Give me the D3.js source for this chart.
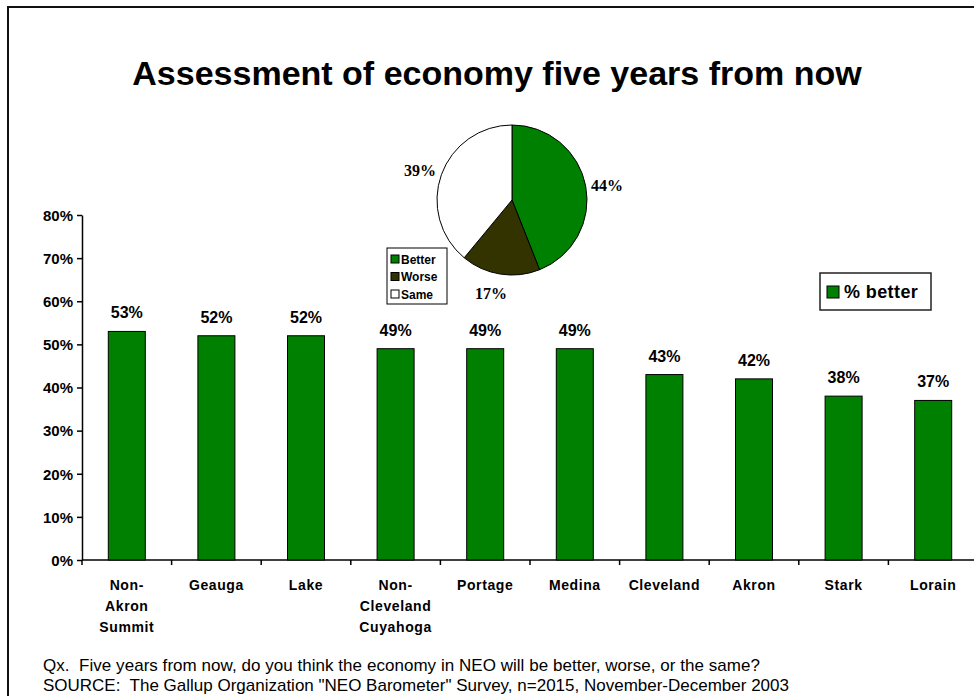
<!DOCTYPE html>
<html>
<head>
<meta charset="utf-8">
<script src="https://cdn.jsdelivr.net/npm/d3@7"></script>
<style>
  html, body { margin: 0; padding: 0; background: #fff; }
  svg { display: block; }
</style>
</head>
<body>
<svg id="chart" width="974" height="696" font-family="Liberation Sans, Arial, sans-serif"></svg>
<script>
// Share expecting the economy to be better, by area
const categories = [
  ["Non-", "Akron", "Summit"],
  ["Geauga"],
  ["Lake"],
  ["Non-", "Cleveland", "Cuyahoga"],
  ["Portage"],
  ["Medina"],
  ["Cleveland"],
  ["Akron"],
  ["Stark"],
  ["Lorain"]
];
const betterValues = [53, 52, 52, 49, 49, 49, 43, 42, 38, 37];
const yTicks = [0, 10, 20, 30, 40, 50, 60, 70, 80];

// Overall split for the pie
const pieLabels = ["Better", "Worse", "Same"];
const pieValues = [44, 17, 39];
const pieColors = ["#008000", "#333300", "#ffffff"];

const titleText = "Assessment of economy five years from now";
const footnotes = [
  "Qx.  Five years from now, do you think the economy in NEO will be better, worse, or the same?",
  "SOURCE:  The Gallup Organization \"NEO Barometer\" Survey, n=2015, November-December 2003"
];
const footnoteWidths = [717, 746];

const svg = d3.select("#chart");

// frame (left and top edges are visible)
svg.append("path")
  .attr("d", "M8,700 L8,7 L980,7")
  .attr("fill", "none").attr("stroke", "#111").attr("stroke-width", 2);

svg.append("text")
  .attr("x", 497).attr("y", 85)
  .attr("text-anchor", "middle")
  .attr("font-size", 34).attr("font-weight", "bold")
  .text(titleText);

// bar chart
const x = d3.scaleBand().domain(d3.range(categories.length)).range([82, 978]).padding(0);
const y = d3.scaleLinear().domain([0, 80]).range([560, 215]);

const yAxis = svg.append("g")
  .attr("transform", "translate(82,0)")
  .call(d3.axisLeft(y).tickValues(yTicks).tickFormat(d => d + "%").tickSize(5).tickSizeOuter(0));
yAxis.attr("font-family", null).attr("font-size", null);
yAxis.select(".domain").attr("stroke", "#000").attr("stroke-width", 1.5);
yAxis.selectAll(".tick line").attr("stroke", "#000").attr("stroke-width", 1.5);
yAxis.selectAll(".tick text")
  .attr("font-size", 15).attr("font-weight", "bold").attr("fill", "#000")
  .attr("x", -9).attr("dy", "0.35em");

const xAxis = svg.append("g")
  .attr("transform", "translate(0,560)");
xAxis.append("line")
  .attr("x1", 82).attr("x2", 978).attr("y1", 0).attr("y2", 0)
  .attr("stroke", "#000").attr("stroke-width", 1.5);
xAxis.selectAll("line.tk")
  .data(d3.range(categories.length + 1))
  .join("line").attr("class", "tk")
  .attr("x1", i => 82 + i * x.bandwidth()).attr("x2", i => 82 + i * x.bandwidth())
  .attr("y1", 0).attr("y2", 5)
  .attr("stroke", "#000").attr("stroke-width", 1.5);

const barW = 37;
svg.append("g").selectAll("rect")
  .data(betterValues)
  .join("rect")
  .attr("x", (d, i) => x(i) + x.bandwidth() / 2 - barW / 2)
  .attr("y", d => y(d))
  .attr("width", barW)
  .attr("height", d => y(0) - y(d))
  .attr("fill", "#008000")
  .attr("stroke", "#000").attr("stroke-width", 1);

svg.append("g").selectAll("text")
  .data(betterValues)
  .join("text")
  .attr("x", (d, i) => x(i) + x.bandwidth() / 2)
  .attr("y", d => y(d) - 13)
  .attr("text-anchor", "middle")
  .attr("font-size", 16).attr("font-weight", "bold")
  .text(d => d + "%");

const catG = svg.append("g").selectAll("text")
  .data(categories)
  .join("text")
  .attr("x", (d, i) => x(i) + x.bandwidth() / 2)
  .attr("y", 590)
  .attr("text-anchor", "middle")
  .attr("font-size", 14).attr("font-weight", "bold")
  .attr("letter-spacing", 0.6);
catG.selectAll("tspan")
  .data(d => d)
  .join("tspan")
  .attr("x", function () { return d3.select(this.parentNode).attr("x"); })
  .attr("dy", (d, j) => j === 0 ? 0 : 21)
  .text(d => d);

// series legend
const leg = svg.append("g");
leg.append("rect").attr("x", 820).attr("y", 273).attr("width", 111).attr("height", 37)
  .attr("fill", "#fff").attr("stroke", "#222").attr("stroke-width", 1.5);
leg.append("rect").attr("x", 827).attr("y", 286).attr("width", 12).attr("height", 12)
  .attr("fill", "#008000").attr("stroke", "#000").attr("stroke-width", 1);
leg.append("text").attr("x", 844).attr("y", 298)
  .attr("font-size", 18).attr("font-weight", "bold").attr("letter-spacing", 0.4).text("% better");

// pie of the overall split
const cx = 512, cy = 200, r = 75;
const pie = d3.pie().sort(null).value(d => d)(pieValues);
const arc = d3.arc().innerRadius(0).outerRadius(r);
const pg = svg.append("g").attr("transform", `translate(${cx},${cy})`);
pg.selectAll("path")
  .data(pie)
  .join("path")
  .attr("d", arc)
  .attr("fill", (d, i) => pieColors[i])
  .attr("stroke", "#000").attr("stroke-width", 1);

const pieLabelPos = [[607, 191], [491, 299], [420, 176]];
pg.selectAll("text")
  .data(pie)
  .join("text")
  .attr("x", (d, i) => pieLabelPos[i][0] - cx)
  .attr("y", (d, i) => pieLabelPos[i][1] - cy)
  .attr("text-anchor", "middle")
  .attr("font-family", "Liberation Serif, Times New Roman, serif")
  .attr("font-size", 16).attr("font-weight", "bold")
  .text(d => d.data + "%");

// pie legend
const pl = svg.append("g");
pl.append("rect").attr("x", 387).attr("y", 248).attr("width", 60).attr("height", 56)
  .attr("fill", "#fff").attr("stroke", "#000").attr("stroke-width", 1);
pieLabels.forEach((lab, i) => {
  const yy = 255 + i * 17.5;
  pl.append("rect").attr("x", 391).attr("y", yy).attr("width", 8).attr("height", 8)
    .attr("fill", pieColors[i]).attr("stroke", "#000").attr("stroke-width", 1);
  pl.append("text").attr("x", 401).attr("y", yy + 8.5)
    .attr("font-size", 12).attr("font-weight", "bold").text(lab);
});

// footnotes
svg.append("g").selectAll("text")
  .data(footnotes)
  .join("text")
  .attr("x", 43)
  .attr("y", (d, i) => 671 + i * 20)
  .attr("font-size", 17)
  .attr("textLength", (d, i) => footnoteWidths[i])
  .attr("lengthAdjust", "spacing")
  .style("white-space", "pre")
  .text(d => d);
</script>
</body>
</html>
